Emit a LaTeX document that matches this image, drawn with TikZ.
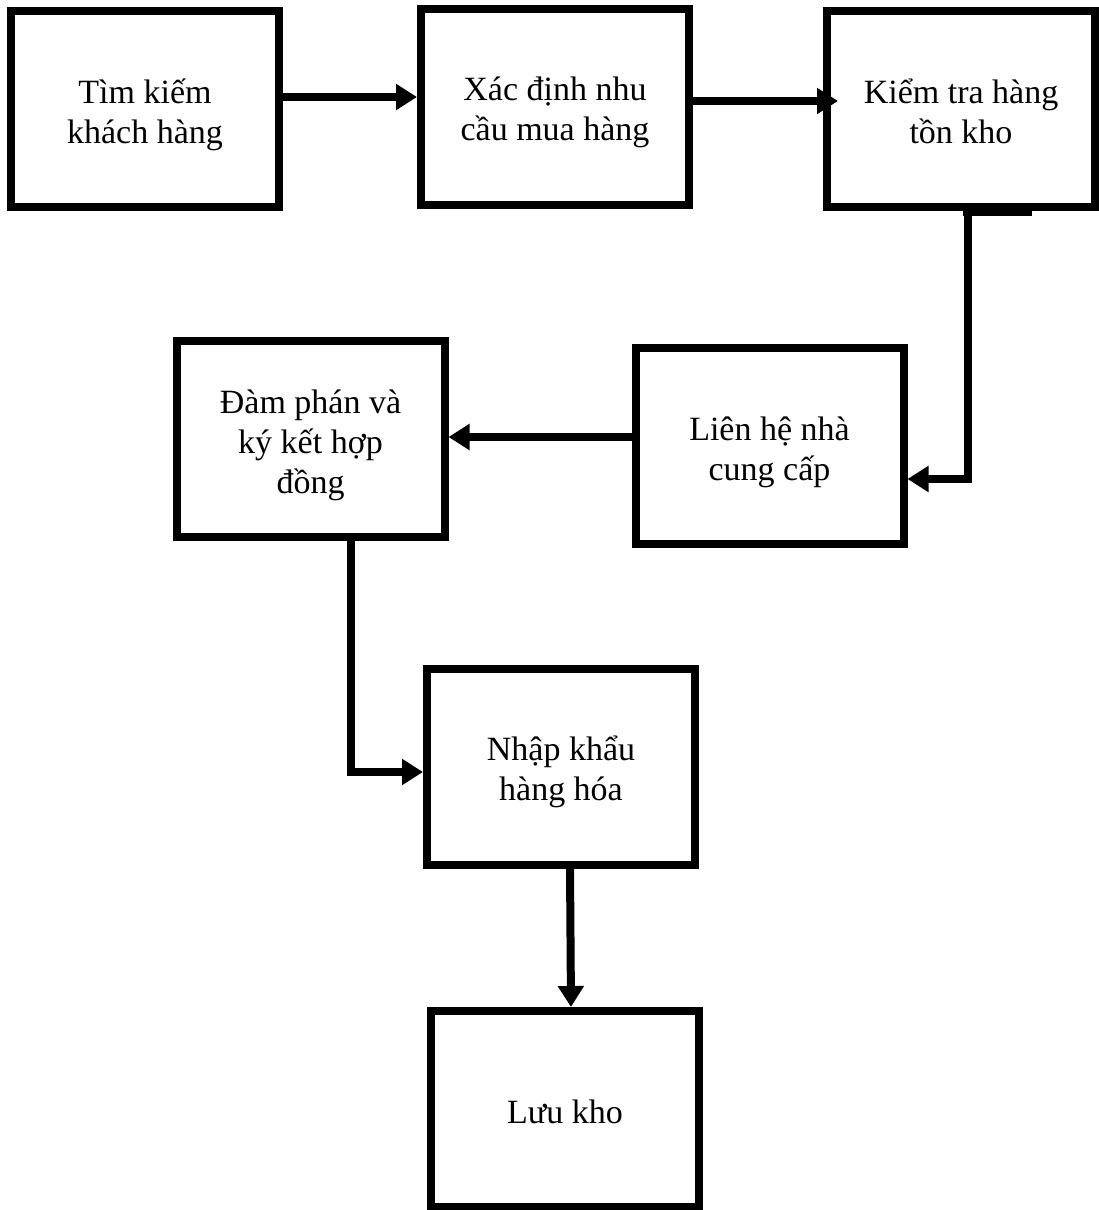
\documentclass[tikz,border=0pt]{standalone}
\usepackage{fontspec}
\setmainfont{Liberation Serif}
\usetikzlibrary{arrows.meta}
\newcommand{\topst}{\rule{0pt}{38pt}}
\newcommand{\botst}{\rule[-10pt]{0pt}{0pt}}
\tikzset{
  box/.style={draw, line width=8pt, minimum width=268pt, minimum height=196pt,
    inner sep=0pt, align=center, font=\fontsize{34}{40}\selectfont},
  conn/.style={line width=8pt, -{Triangle[length=21pt,width=25pt]}},
}
\begin{document}
\begin{tikzpicture}[x=1pt,y=-1pt]
\useasboundingbox (0,0) rectangle (1099,1210);
\node[box] (b1) at (145,109) {\topst Tìm kiếm\\khách hàng\botst};
\node[box] (b2) at (555,106.5) {\topst Xác định nhu\\cầu mua hàng\botst};
\node[box] (b3) at (961,109) {\topst Kiểm tra hàng\\tồn kho\botst};
\node[box] (b4) at (769.5,446) {\topst Liên hệ nhà\\cung cấp\botst};
\node[box] (b5) at (310.5,439) {\topst Đàm phán và\\ký kết hợp\\đồng\botst};
\node[box] (b6) at (561,766.5) {\topst Nhập khẩu\\hàng hóa\botst};
\node[box] (b7) at (565,1109) {\topst Lưu kho\botst};
% connectors
\draw[conn] (b1.east |- 0,97) -- (b2.west |- 0,97);
\draw[conn, shorten >=-15pt] (b2.east |- 0,101) -- (b3.west |- 0,101);
\fill ([xshift=2pt]b3.south |- 0,209) rectangle (1032,215.5);
\draw[conn] (967.5,0 |- b3.south) -- (967.5,479) -- (b4.east |- 0,479);
\draw[conn] (b4.west |- 0,437) -- (b5.east |- 0,437);
\draw[conn] (350.5,0 |- b5.south) -- (350.5,772) -- (b6.west |- 0,772);
\draw[conn] (570,0 |- b6.south) -- (571,0 |- b7.north);
\end{tikzpicture}
\end{document}
